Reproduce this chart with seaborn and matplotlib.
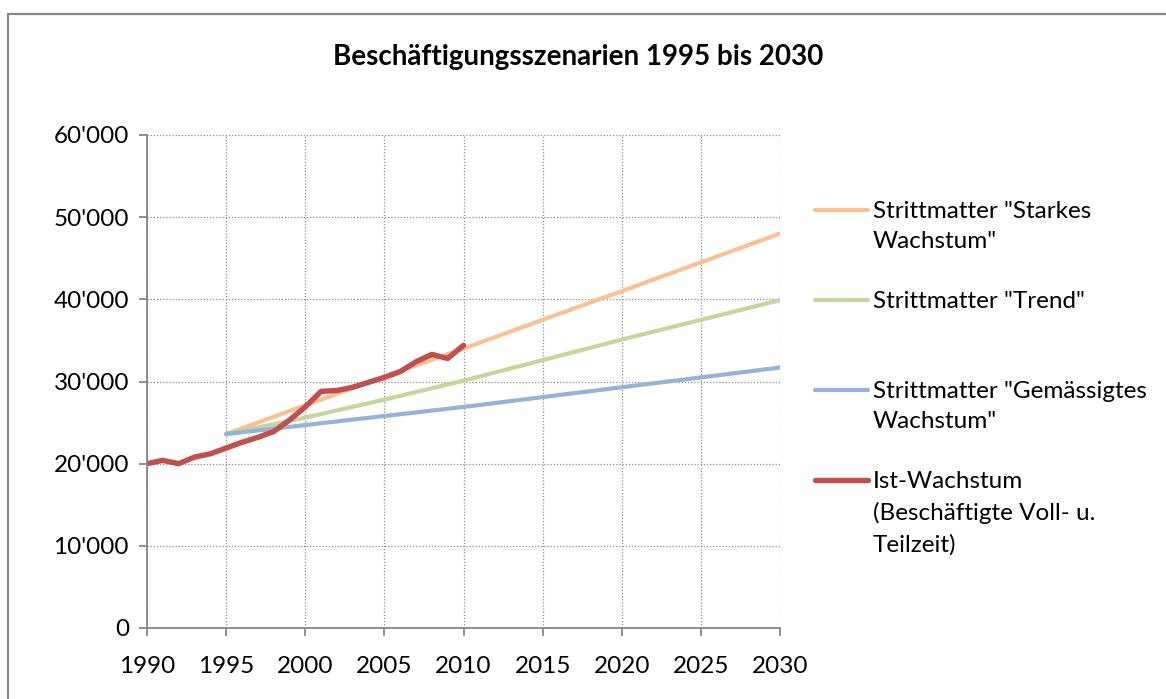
import matplotlib
matplotlib.use("Agg")
import matplotlib.pyplot as plt
from matplotlib.lines import Line2D
import seaborn as sns
import pandas as pd

# ---- data ----
years_ist = list(range(1990, 2011))
ist = [20000, 20400, 20000, 20800, 21200, 21900, 22600, 23200, 23900, 25300,
       26900, 28800, 28900, 29300, 29900, 30500, 31200, 32400, 33300, 32800, 34400]

years_sz = [1995, 2000, 2005, 2010, 2015, 2020, 2025, 2030]
starkes = [23600, 27100, 30600, 34000, 37500, 41000, 44500, 48000]
trend = [23600, 25600, 27800, 30100, 32600, 35100, 37500, 39900]
gemaessigt = [23600, 24700, 25800, 26900, 28100, 29300, 30500, 31700]

labels = ['Strittmatter "Starkes\nWachstum"',
          'Strittmatter "Trend"',
          'Strittmatter "Gemässigtes\nWachstum"',
          'Ist-Wachstum\n(Beschäftigte Voll- u.\nTeilzeit)']
colors = ["#FAC090", "#C3D69B", "#95B3D7", "#C0504D"]
xticks = list(range(1990, 2031, 5))
yticks = list(range(0, 60001, 10000))
title = "Beschäftigungsszenarien 1995 bis 2030"

sns.set_theme(style="white")
plt.rcParams["font.family"] = ["Lato", "DejaVu Sans"]

fig = plt.figure(figsize=(11.66, 6.99), dpi=100)
ax = fig.add_axes([147/1166, 1-628/699, (780-147)/1166, (628-135)/699])

df_sz = pd.DataFrame({"Jahr": years_sz * 3,
                      "Wert": starkes + trend + gemaessigt,
                      "Serie": [labels[0]] * 8 + [labels[1]] * 8 + [labels[2]] * 8})
df_ist = pd.DataFrame({"Jahr": years_ist, "Wert": ist})

lw_sz, lw_ist = 3.0, 3.9
sns.lineplot(data=df_sz, x="Jahr", y="Wert", hue="Serie",
             palette=dict(zip(labels[:3], colors[:3])), linewidth=lw_sz,
             legend=False, ax=ax)
sns.lineplot(data=df_ist, x="Jahr", y="Wert", color=colors[3], linewidth=lw_ist,
             legend=False, ax=ax)

ax.set_xlim(1990, 2030)
ax.set_ylim(0, 60000)
ax.set_xticks(xticks)
ax.set_yticks(yticks)
ax.set_xticklabels([str(x) for x in xticks])
ax.set_yticklabels([f"{y:,}".replace(",", "'") for y in yticks])
ax.set_xlabel("")
ax.set_ylabel("")
ax.grid(True, color="#8c8c8c", linestyle=(0, (1, 1.5)), linewidth=0.9)
for s in ["top", "right"]:
    ax.spines[s].set_visible(False)
for s in ["left", "bottom"]:
    ax.spines[s].set_color("#868686")
    ax.spines[s].set_linewidth(1.3)
ax.tick_params(axis="both", which="both", direction="out", length=6, width=1.3,
               color="#868686", labelsize=17.5, labelcolor="black", left=True, bottom=True)
ax.tick_params(axis="y", pad=7)
ax.tick_params(axis="x", pad=14)

fig.text(578/1166, 1-57/699, title, ha="center", va="center",
         fontsize=20, fontweight="bold", color="black")

# legend, drawn manually
entry_y = [210, 300, 390, 480]
for lab, col, yy, lw in zip(labels, colors, entry_y, [lw_sz, lw_sz, lw_sz, lw_ist]):
    yf = 1 - yy / 699
    fig.add_artist(Line2D([815/1166, 868/1166], [yf, yf], color=col, linewidth=lw,
                          transform=fig.transFigure, solid_capstyle="round"))
    fig.text(873/1166, yf + 9/699, lab, ha="left", va="top", fontsize=17.5,
             color="black", linespacing=1.55)

# outer frame (left and top edges visible)
fig.add_artist(Line2D([7.5/1166, 7.5/1166], [0, 1-14/699], color="#888888",
                      linewidth=1.6, transform=fig.transFigure))
fig.add_artist(Line2D([7.5/1166, 1], [1-14/699, 1-14/699], color="#888888",
                      linewidth=1.6, transform=fig.transFigure))

fig.savefig("out.png", dpi=100)
